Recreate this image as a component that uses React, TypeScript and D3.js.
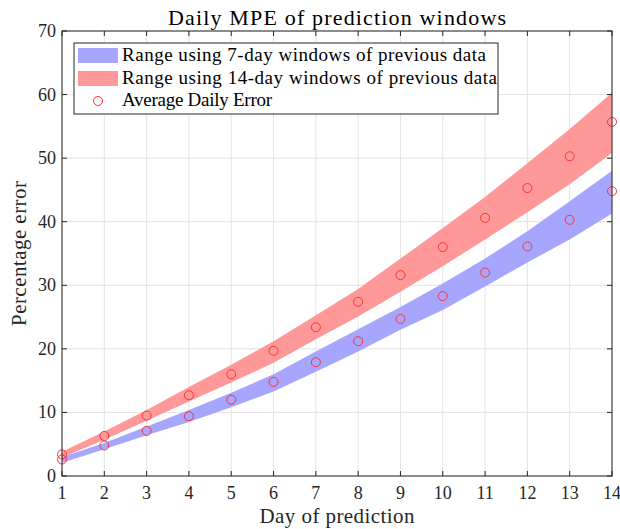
import React from "react";
import * as d3 from "d3";

const days = [1, 2, 3, 4, 5, 6, 7, 8, 9, 10, 11, 12, 13, 14];
const blueLower = [2.1, 4.2, 6.4, 8.5, 10.8, 13.3, 16.4, 19.6, 23.0, 26.1, 29.8, 33.6, 37.2, 41.3];
const blueUpper = [3.0, 5.2, 7.8, 10.4, 13.1, 16.0, 19.6, 23.1, 26.6, 30.3, 34.2, 38.5, 43.2, 48.0];
const redLower = [2.9, 5.7, 8.7, 11.7, 14.7, 17.8, 21.5, 25.1, 29.0, 33.0, 37.2, 41.5, 45.9, 50.8];
const redUpper = [3.8, 7.0, 10.4, 14.0, 17.5, 21.2, 25.3, 29.4, 34.2, 39.0, 43.9, 49.2, 54.6, 60.3];
const avg7 = [2.6, 4.8, 7.1, 9.4, 12.0, 14.8, 17.9, 21.2, 24.7, 28.3, 32.0, 36.1, 40.3, 44.8];
const avg14 = [3.4, 6.3, 9.5, 12.7, 16.0, 19.7, 23.4, 27.4, 31.6, 36.0, 40.6, 45.3, 50.3, 55.7];
const yTicks = [0, 10, 20, 30, 40, 50, 60, 70];
const legendLabels = [
  "Range using 7-day windows of previous data",
  "Range using 14-day windows of previous data",
  "Average Daily Error",
];
// approximate rendered widths of the legend lines in the original
const legendWidths = [364, 375, 150];

const font = "'Liberation Serif', 'Times New Roman', serif";

export default function App() {
  const svgWidth = 620;
  const svgHeight = 529;
  const margin = { top: 31, right: 8, bottom: 53, left: 62 };
  const w = svgWidth - margin.left - margin.right;
  const h = svgHeight - margin.top - margin.bottom;

  const x = d3.scaleLinear().domain([1, 14]).range([0, w]);
  const y = d3.scaleLinear().domain([0, 70]).range([h, 0]);

  const band = (lo: number[], hi: number[]) =>
    d3
      .area<number>()
      .x((d) => x(d))
      .y0((d, i) => y(lo[i]))
      .y1((d, i) => y(hi[i]))(days) || "";

  const tick = 5;
  const axisColor = "#262626";

  return (
    <div style={{ position: "absolute", left: 0, top: 0 }}>
      <svg width={svgWidth} height={svgHeight} style={{ display: "block", background: "#fff" }}>
        <text
          x={margin.left + w / 2}
          y={25}
          textAnchor="middle"
          fontFamily={font}
          fontSize={22}
          fill="#000"
          textLength={338}
          lengthAdjust="spacing"
        >
          Daily MPE of prediction windows
        </text>
        <g transform={`translate(${margin.left},${margin.top})`}>
          {/* grid */}
          {days.map((d) => (
            <line key={"gx" + d} x1={x(d)} x2={x(d)} y1={0} y2={h} stroke="#e3e3e3" strokeWidth={1} />
          ))}
          {yTicks.map((t) => (
            <line key={"gy" + t} x1={0} x2={w} y1={y(t)} y2={y(t)} stroke="#e3e3e3" strokeWidth={1} />
          ))}

          <path d={band(blueLower, blueUpper)} fill="#a6a6ff" />
          <path d={band(redLower, redUpper)} fill="#ff9999" />

          {days.map((d, i) => (
            <circle key={"a7" + d} cx={x(d)} cy={y(avg7[i])} r={4.5} fill="none" stroke="#ff3030" strokeWidth={1} />
          ))}
          {days.map((d, i) => (
            <circle key={"a14" + d} cx={x(d)} cy={y(avg14[i])} r={4.5} fill="none" stroke="#ff3030" strokeWidth={1} />
          ))}

          {/* box and ticks */}
          <rect x={0} y={0} width={w} height={h} fill="none" stroke={axisColor} strokeWidth={1} />
          {days.map((d) => (
            <g key={"tx" + d}>
              <line x1={x(d)} x2={x(d)} y1={h} y2={h - tick} stroke={axisColor} />
              <line x1={x(d)} x2={x(d)} y1={0} y2={tick} stroke={axisColor} />
              <text x={x(d)} y={h + 23} textAnchor="middle" fontFamily={font} fontSize={18} fill="#262626">
                {d}
              </text>
            </g>
          ))}
          {yTicks.map((t) => (
            <g key={"ty" + t}>
              <line x1={0} x2={tick} y1={y(t)} y2={y(t)} stroke={axisColor} />
              <line x1={w} x2={w - tick} y1={y(t)} y2={y(t)} stroke={axisColor} />
              <text x={-6} y={y(t) + 6} textAnchor="end" fontFamily={font} fontSize={18} fill="#262626">
                {t}
              </text>
            </g>
          ))}

          {/* legend */}
          <g transform="translate(12,12)">
            <rect x={0} y={0} width={424} height={71} fill="#fff" stroke={axisColor} strokeWidth={1} />
            <rect x={4} y={5} width={40} height={15} fill="#a6a6ff" />
            <rect x={4} y={28} width={40} height={15} fill="#ff9999" />
            <circle cx={24} cy={58} r={4.5} fill="none" stroke="#ff3030" strokeWidth={1} />
            {legendLabels.map((l, i) => (
              <text
                key={l}
                x={48}
                y={18 + i * 22.5}
                fontFamily={font}
                fontSize={19}
                fill="#000"
                textLength={legendWidths[i]}
                lengthAdjust="spacing"
              >
                {l}
              </text>
            ))}
          </g>
        </g>
        <text
          x={margin.left + w / 2}
          y={523}
          textAnchor="middle"
          fontFamily={font}
          fontSize={21}
          fill="#262626"
          textLength={155}
          lengthAdjust="spacing"
        >
          Day of prediction
        </text>
        <text
          transform={`translate(26,${margin.top + h / 2}) rotate(-90)`}
          textAnchor="middle"
          fontFamily={font}
          fontSize={21}
          fill="#262626"
          textLength={145}
          lengthAdjust="spacing"
        >
          Percentage error
        </text>
      </svg>
    </div>
  );
}
